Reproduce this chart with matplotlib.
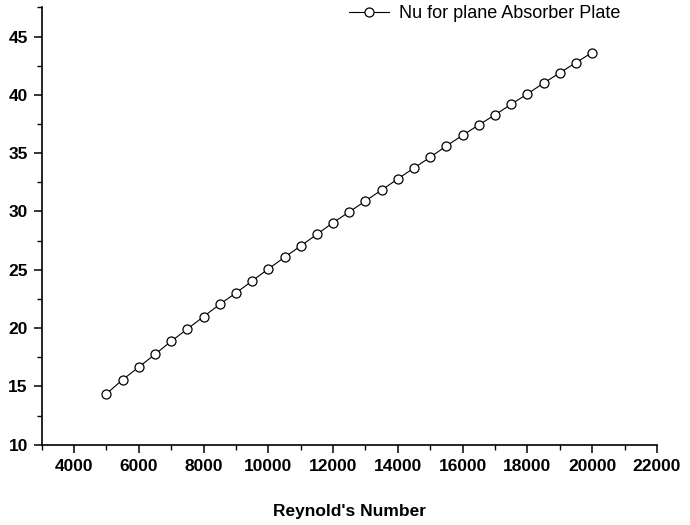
import matplotlib
matplotlib.use("Agg")
import matplotlib.pyplot as plt
from matplotlib.ticker import MultipleLocator

plt.rcParams['font.family'] = ['Liberation Sans', 'DejaVu Sans']

reynolds = [5000, 5500, 6000, 6500, 7000, 7500, 8000, 8500, 9000, 9500,
            10000, 10500, 11000, 11500, 12000, 12500, 13000, 13500, 14000, 14500,
            15000, 15500, 16000, 16500, 17000, 17500, 18000, 18500, 19000, 19500, 20000]
nu_plane = [14.37, 15.57, 16.66, 17.75, 18.87, 19.92, 20.98, 22.04, 23.01, 24.04,
            25.07, 26.07, 27.04, 28.04, 29.04, 29.96, 30.90, 31.84, 32.79, 33.73,
            34.65, 35.62, 36.53, 37.42, 38.28, 39.19, 40.08, 41.00, 41.88, 42.76, 43.62]
series_label = "Nu for plane Absorber Plate"
x_label = "Reynold's Number"

fig = plt.figure(figsize=(6.9, 5.25), dpi=100)
ax = fig.add_axes([0.0604, 0.153, 0.952 - 0.0604, 0.986 - 0.153])

ax.plot(reynolds, nu_plane, color='black', linewidth=0.8, marker='o',
        markersize=6.5, markerfacecolor='white', markeredgecolor='black',
        markeredgewidth=0.9, label=series_label)

ax.set_xlim(3000, 22000)
ax.set_ylim(10, 47.5)
ax.xaxis.set_major_locator(MultipleLocator(2000))
ax.xaxis.set_minor_locator(MultipleLocator(1000))
ax.yaxis.set_major_locator(MultipleLocator(5))
ax.yaxis.set_minor_locator(MultipleLocator(2.5))

for s in ['top', 'right']:
    ax.spines[s].set_visible(False)
for s in ['left', 'bottom']:
    ax.spines[s].set_linewidth(1.2)

ax.tick_params(which='major', direction='out', length=6, width=1.1, labelsize=12.5, pad=4)
ax.tick_params(which='minor', direction='out', length=3.5, width=1.0)
for lab in ax.get_xticklabels() + ax.get_yticklabels():
    lab.set_fontweight('bold')

ax.set_xlabel(x_label, fontsize=12.5, fontweight='bold', labelpad=22)

leg = ax.legend(loc='center left', bbox_to_anchor=(349 / 690, 1 - 14 / 525),
                bbox_transform=fig.transFigure, frameon=False, fontsize=13,
                handlelength=2.2, handletextpad=0.55, borderpad=0, borderaxespad=0)

fig.savefig("out.png", dpi=100)
